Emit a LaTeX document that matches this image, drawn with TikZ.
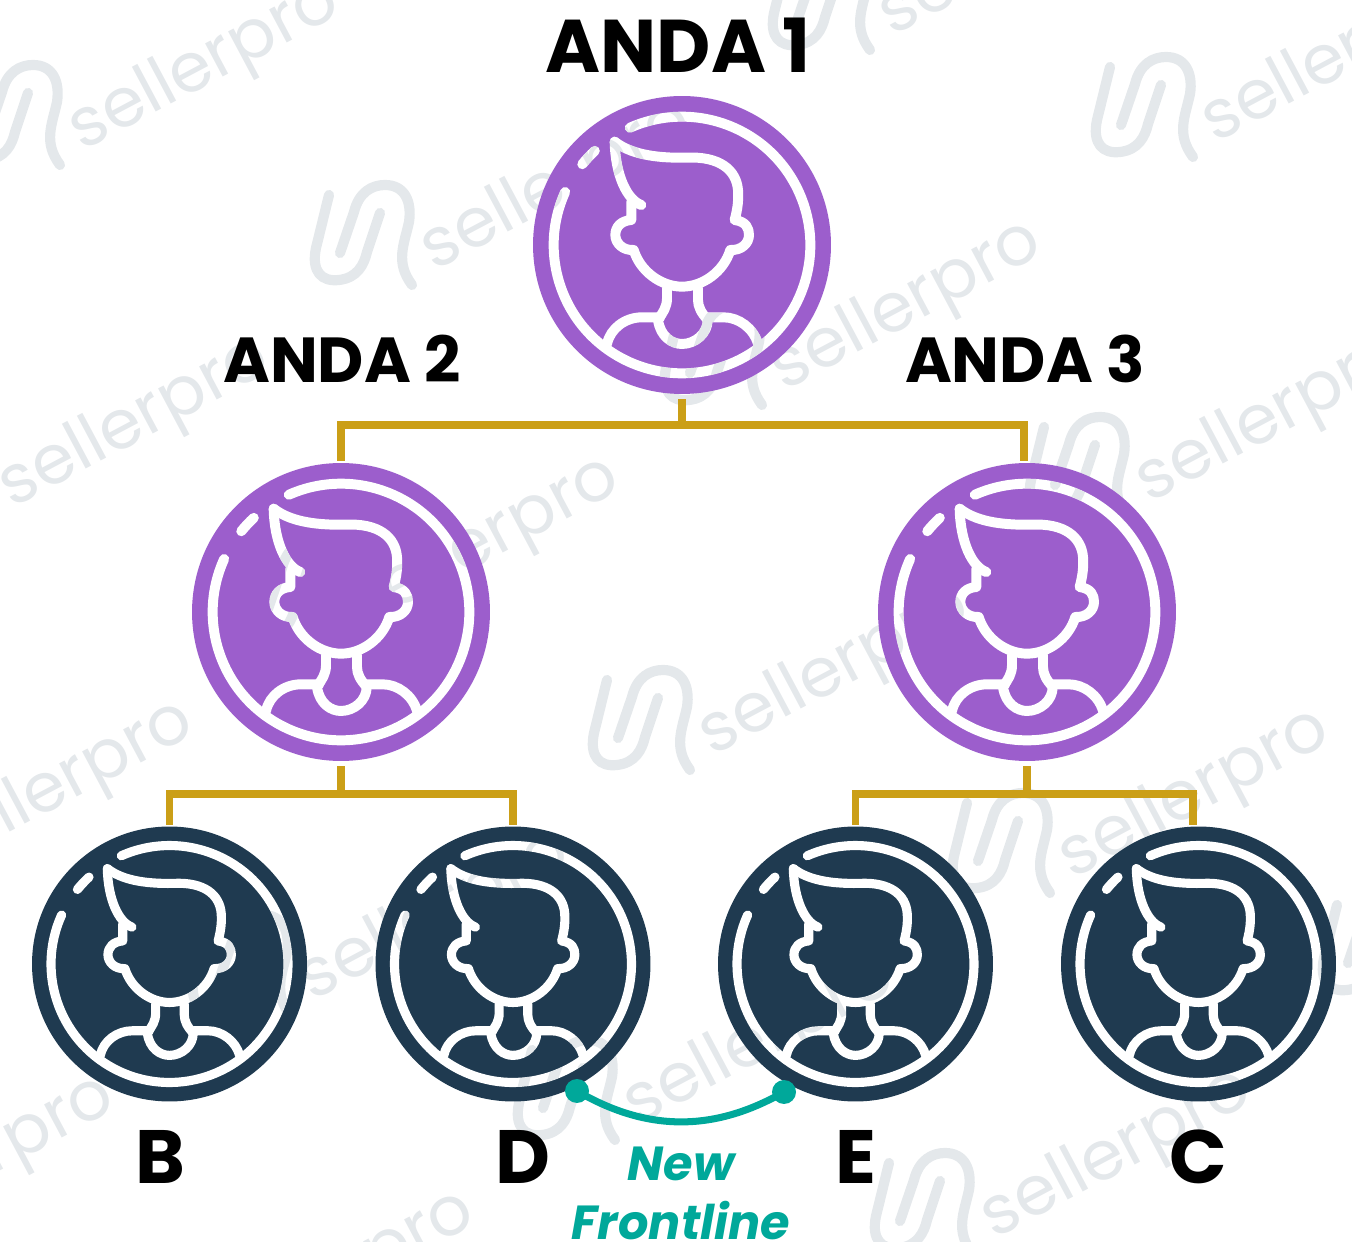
\documentclass[tikz,border=0pt]{standalone}
\usepackage{fontspec}
\setmainfont{Poppins}
\usepackage{xcolor}
\usetikzlibrary{calc}

\definecolor{violetto}{HTML}{9C5ECC}
\definecolor{blunotte}{HTML}{1F3A50}
\definecolor{oro}{HTML}{CB9F17}
\definecolor{verdeacqua}{HTML}{00A89A}
\definecolor{filigrana}{HTML}{E4E8EB}

\tikzset{
  uplinea/.style={circle,fill=violetto,minimum size=5.96cm,inner sep=0pt,outer sep=0pt},
  downlinea/.style={circle,fill=blunotte,minimum size=5.5cm,inner sep=0pt,outer sep=0pt},
  albero/.style={oro,line width=4.5pt,shorten >=1pt,shorten <=3pt},
  frontline/.style={verdeacqua,line width=4pt},
  puntino/.style={circle,fill=verdeacqua,minimum size=.48cm,inner sep=0pt},
  titolo/.style={font=\fontsize{42.5}{42.5}\selectfont\bfseries,inner sep=0pt},
  sottotitolo/.style={font=\fontsize{36.2}{36.2}\selectfont\bfseries,inner sep=0pt},
  lettera/.style={font=\fontsize{43}{43}\selectfont\bfseries,inner sep=0pt},
  nuova/.style={verdeacqua,font=\fontsize{27.2}{27.2}\selectfont\bfseries\itshape,inner sep=0pt},
  pics/omino/.style={code={
    \begin{scope}[white,line width=#1,line cap=round,line join=round]
    % anello
    \draw (155.6:385) arc (155.6:474:385);
    \draw (141:385) arc (141:132.8:385);
    % testa
    \draw (-202,310) .. controls (-157,275) and (-87,260) .. (13,262)
      .. controls (113,267) and (163,225) .. (168,165)
      .. controls (171,125) and (163,95) .. (158,75)
      .. controls (193,70) and (201,50) .. (201,30)
      .. controls (201,5) and (178,-17) .. (145,-15)
      .. controls (125,-80) and (63,-125) .. (0,-125)
      .. controls (-62,-125) and (-125,-80) .. (-145,-15)
      .. controls (-177,-17) and (-200,5) .. (-200,30)
      .. controls (-200,55) and (-182,73) .. (-152,75)
      -- (-152,130);
    \draw (-202,310) .. controls (-200,210) and (-165,135) .. (-122,120);
    % collo e spalle
    \draw (-45,-130) -- (-45,-160) .. controls (-45,-185) and (-57,-205) .. (-72,-222);
    \draw (48,-130) -- (48,-165) .. controls (48,-185) and (58,-205) .. (78,-225);
    \draw (-72,-225) .. controls (-65,-275) and (-30,-297) .. (0,-297)
      .. controls (40,-297) and (77,-265) .. (77,-225);
    \draw (-225,-297) .. controls (-215,-250) and (-170,-217) .. (-120,-217) -- (-65,-217);
    \draw (78,-217) -- (125,-217) .. controls (170,-217) and (215,-250) .. (228,-297);
    \end{scope}
  }},
  pics/marchio/.style={code={
    \begin{scope}[filigrana,line width=5.8pt,line cap=round,line join=round]
    \draw (-33,40) -- (-46,-13) .. controls (-51,-37) and (-40,-47) .. (-23,-45)
      .. controls (-5,-43) and (2,-30) .. (5,-17) -- (18,22);
    \draw (-22,-18) -- (-8,23) .. controls (-3,43) and (10,50) .. (23,50)
      .. controls (43,50) and (50,33) .. (47,13)
      .. controls (42,-10) and (33,-27) .. (50,-50);
    \node[anchor=base west,inner sep=0pt,rotate=28,text=filigrana,
          font=\fontsize{39}{39}\selectfont] (scritta) at (68,-39) {sellerpro};
    \end{scope}
  }}
}

\begin{document}
\begin{tikzpicture}[x=.02cm,y=.02cm]
\useasboundingbox (0,0) rectangle (1352,1241);

% cerchi
\node[uplinea] (a1) at (682,996) {};
\node[uplinea] (a2) at (341,629) {};
\node[uplinea] (a3) at (1027,629) {};
\node[downlinea] (b) at (169.5,277) {};
\node[downlinea] (d) at (513,277) {};
\node[downlinea] (e) at (855.5,277) {};
\node[downlinea] (c) at (1198.5,277) {};

\foreach \n in {a1,a2,a3}
   \pic[scale=.3333] at (\n) {omino=5.67pt};
\foreach \n in {b,d,e,c}
   \pic[scale=.3077] at (\n) {omino=5.2pt};

% linee albero
\coordinate (bus1) at (682,816);
\coordinate (bus2) at (341,447);
\coordinate (bus3) at (1027,447);

\draw[albero,shorten >=0pt] (a1.south) -- (bus1);
\draw[albero,shorten <=0pt] (bus1) -| ([xshift=-1.7pt]a3.north);
\draw[albero,shorten <=0pt] (bus1) -| (a2.north);
\draw[albero,shorten >=0pt] (a2.south) -- (bus2);
\draw[albero,shorten <=0pt] (bus2) -| (b.north);
\draw[albero,shorten <=0pt] (bus2) -| (d.north);
\draw[albero,shorten >=0pt] (a3.south) -- (bus3);
\draw[albero,shorten <=0pt] (bus3) -| (e.north);
\draw[albero,shorten <=0pt] (bus3) -| ([xshift=-3pt]c.north);

% new frontline
\node[puntino] (pd) at (577,150) {};
\node[puntino] (pe) at (784,149) {};
\draw[frontline] (pd.center) to[bend right=30] (pe.center);

% etichette
\node[titolo] (la1) at (678,1196) {ANDA 1};
\node[sottotitolo] (la2) at (342,882) {ANDA 2};
\node[sottotitolo] (la3) at (1025,882) {ANDA 3};
\node[lettera] (lb) at (160,84) {B};
\node[lettera] (ld) at (523,84) {D};
\node[lettera] (le) at (856,84) {E};
\node[lettera] (lc) at (1198,84) {C};
\node[nuova] (ln) at (681,77) {New};
\node[nuova] (lf) at (681,20) {Frontline};

% filigrana
\begin{scope}[blend mode=darken]
\foreach \x/\y in {10/1126,362/1006,1143/1134,712/886,640/521,-60/769,290/650,1077/774,
                   -136/406,1000/398,922/38,565/151,-215/31,145/-84,240/276,820/1241,1370/296}
   \pic at (\x,\y) {marchio};
\end{scope}
\end{tikzpicture}
\end{document}
